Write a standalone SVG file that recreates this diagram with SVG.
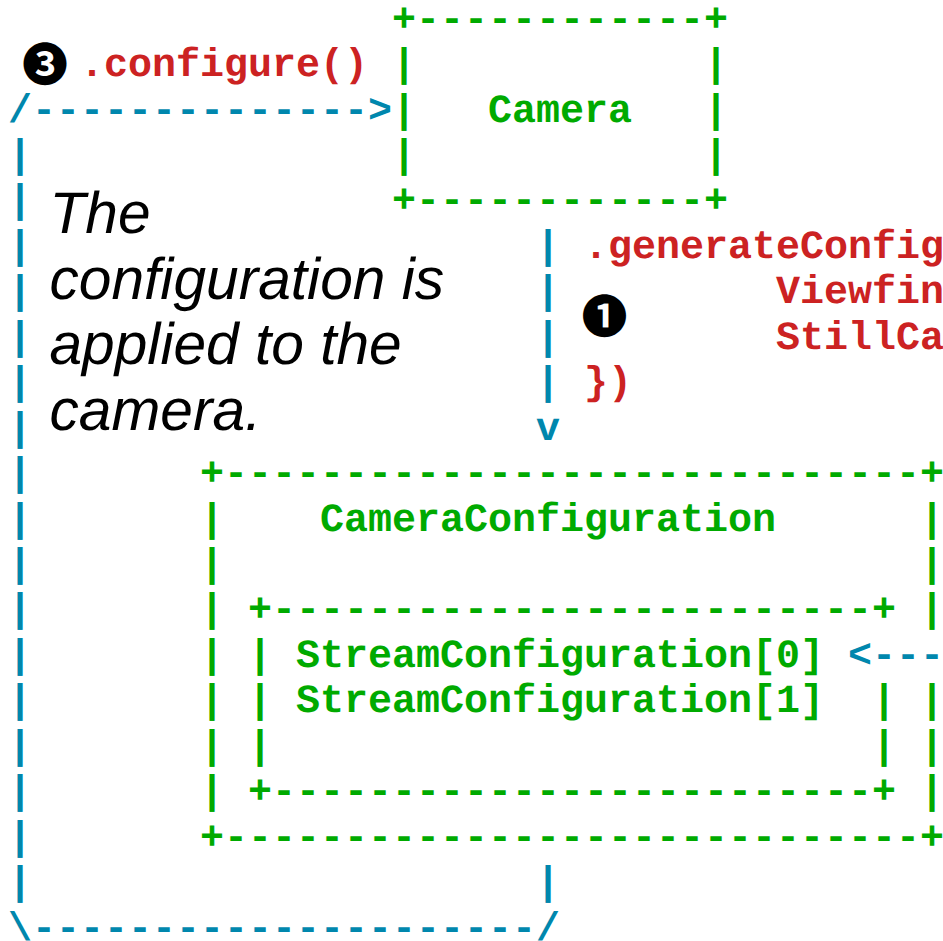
<svg xmlns="http://www.w3.org/2000/svg" width="943" height="941" viewBox="0 0 943 941">
<style>
text{white-space:pre;text-rendering:geometricPrecision}
.m{font-family:"Liberation Mono",monospace;font-size:40px;font-weight:bold}
.g{fill:#00aa00}
.t{fill:#0087ad}
.r{fill:#cc2222}
.n{font-family:"Noto Sans CJK JP",sans-serif;font-size:45.5px;font-weight:bold;fill:#000}
.i{font-family:"Liberation Sans",sans-serif;font-size:58.67px;font-style:italic;fill:#000}
</style>
<rect width="943" height="941" fill="#fff"/>
<g id="connectors" class="m t">
<text x="8" y="121.5">/--------------&gt;</text>
<text x="8" y="166.95">|</text>
<text x="8" y="212.4">|</text>
<text x="8" y="257.85">|</text>
<text x="8" y="303.3">|</text>
<text x="8" y="348.75">|</text>
<text x="8" y="394.2">|</text>
<text x="8" y="439.65">|</text>
<text x="8" y="485.1">|</text>
<text x="8" y="530.55">|</text>
<text x="8" y="576">|</text>
<text x="8" y="621.45">|</text>
<text x="8" y="666.9">|</text>
<text x="8" y="712.35">|</text>
<text x="8" y="757.8">|</text>
<text x="8" y="803.25">|</text>
<text x="8" y="848.7">|</text>
<text x="8" y="894.15">|                     |</text>
<text x="8" y="939.6">\---------------------/</text>
<text x="536" y="257.85">|</text>
<text x="536" y="303.3">|</text>
<text x="536" y="348.75">|</text>
<text x="536" y="394.2">|</text>
<text x="536" y="439.65">v</text>
<text x="848" y="666.9">&lt;---</text>
</g>
<g id="camera" class="m g">
<text x="392" y="30.6">+------------+</text>
<text x="392" y="76.05">|            |</text>
<text x="392" y="121.5">|   Camera   |</text>
<text x="392" y="166.95">|            |</text>
<text x="392" y="212.4">+------------+</text>
</g>
<g id="camera-configuration" class="m g">
<text x="200" y="485.1">+-----------------------------+</text>
<text x="200" y="530.55">|    CameraConfiguration      |</text>
<text x="200" y="576">|</text><text x="920" y="576">|</text>
<text x="200" y="621.45">|</text><text x="920" y="621.45">|</text>
<text x="200" y="666.9">|</text>
<text x="200" y="712.35">|</text><text x="920" y="712.35">|</text>
<text x="200" y="757.8">|</text><text x="920" y="757.8">|</text>
<text x="200" y="803.25">|</text><text x="920" y="803.25">|</text>
<text x="200" y="848.7">+-----------------------------+</text>
</g>
<g id="stream-configuration" class="m g">
<text x="248" y="621.45">+-------------------------+</text>
<text x="248" y="666.9">| StreamConfiguration[0]</text>
<text x="248" y="712.35">| StreamConfiguration[1]  |</text>
<text x="248" y="757.8">|                         |</text>
<text x="248" y="803.25">+-------------------------+</text>
</g>
<g id="label-configure">
<text class="n" x="22.2" y="81">❸</text>
<text class="m r" x="80" y="76.05">.configure()</text>
</g>
<g id="label-generate">
<text class="m r" x="584" y="257.85">.generateConfig</text>
<text class="m r" x="776" y="303.3">Viewfin</text>
<text class="n" x="581.7" y="333.3">❶</text>
<text class="m r" x="776" y="348.75">StillCa</text>
<text class="m r" x="584" y="394.2">})</text>
</g>
<g id="note">
<text class="i" x="49.5" y="233">The</text>
<text class="i" x="49.5" y="298.5">configuration is</text>
<text class="i" x="49.5" y="364">applied to the</text>
<text class="i" x="49.5" y="429.5">camera.</text>
</g>
</svg>
